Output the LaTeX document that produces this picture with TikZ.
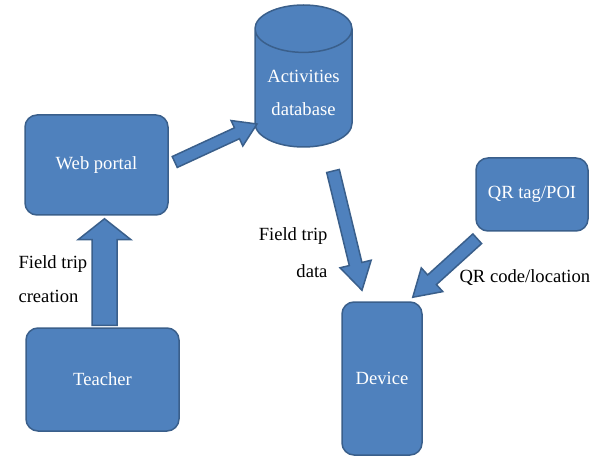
\documentclass[tikz,border=0pt]{standalone}
\usepackage{fontspec}
\setmainfont{Liberation Serif}
\usetikzlibrary{shapes.geometric,calc}
\definecolor{boxblue}{HTML}{4F81BD}
\definecolor{boxline}{HTML}{3A5F8B}
% block arrow: tail, tip, shaft half width, head half width, head length
\newcommand{\fatarrow}[5]{%
\draw[blockarrow] let \p1=($(#2)-(#1)$), \n1={atan2(\y1,\x1)}, \n2={veclen(\x1,\y1)-#5} in
  ($(#1)+({\n1+90}:#3pt)$) -- ++({\n1}:{\n2*1pt}) -- ++({\n1+90}:{#4pt-#3pt}) -- (#2)
  -- ($(#1)+({\n1}:{\n2*1pt})+({\n1-90}:#4pt)$) -- ++({\n1+90}:{#4pt-#3pt})
  -- ($(#1)+({\n1-90}:#3pt)$) -- cycle;}
\begin{document}
\begin{tikzpicture}[x=1pt,y=-1pt,
  box/.style={draw=boxline,fill=boxblue,line width=1.5pt,rounded corners=12pt,text=white,font=\fontsize{18.6}{33}\selectfont},
  blockarrow/.style={draw=boxline,fill=boxblue,line width=1.5pt,line join=miter},
  lbl/.style={font=\fontsize{18.6}{34}\selectfont}]
\useasboundingbox (0,0) rectangle (597,457);
% boxes
\node[box,minimum width=143pt,minimum height=100pt] (web) at (96.5,165) {Web portal};
\node[box,minimum width=153pt,minimum height=103pt] (teacher) at (102.5,379.5) {Teacher};
\node[box,minimum width=80pt,minimum height=153pt] (device) at (382,378.5) {Device};
\node[box,minimum width=112pt,minimum height=73pt] (qr) at (532,194.5) {QR tag/POI};
\node[box,rounded corners=0pt,cylinder,shape border rotate=90,aspect=0.6,anchor=shape center,
  minimum width=97pt,minimum height=142pt,align=center] (db) at (303.5,76) {Activities\\database};
% arrow ends
\coordinate (creationTail) at ($(teacher.north)+(2,-2)$);
\coordinate (creationTip) at ($(web.south)+(8,3)$);
\coordinate (uploadTail) at ($(web.east)+(6,-3)$);
\coordinate (uploadTip) at ($(db.shape center)+(-46.5,48)$);
\coordinate (tripTail) at ($(db.shape center)+(29.5,95)$);
\coordinate (tripTip) at ($(device.north)+(-20,-11)$);
\coordinate (scanTail) at ($(qr.south west)+(2,7)$);
\coordinate (scanTip) at ($(device.north east)+(-10,-4)$);
\fatarrow{creationTail}{creationTip}{12.5}{26.5}{21}
\fatarrow{uploadTail}{uploadTip}{6}{14}{22}
\fatarrow{tripTail}{tripTip}{6.5}{16}{27}
\fatarrow{scanTail}{scanTip}{6.5}{16}{26}
% labels
\node[lbl,align=left,anchor=west] (creationLbl) at (15,279) {Field trip\\creation};
\node[lbl,align=right,anchor=east] (tripLbl) at (331,253) {Field trip\\[3pt]data};
\node[lbl,anchor=base west] (scanLbl) at (456,282) {QR code/location};
\end{tikzpicture}
\end{document}
